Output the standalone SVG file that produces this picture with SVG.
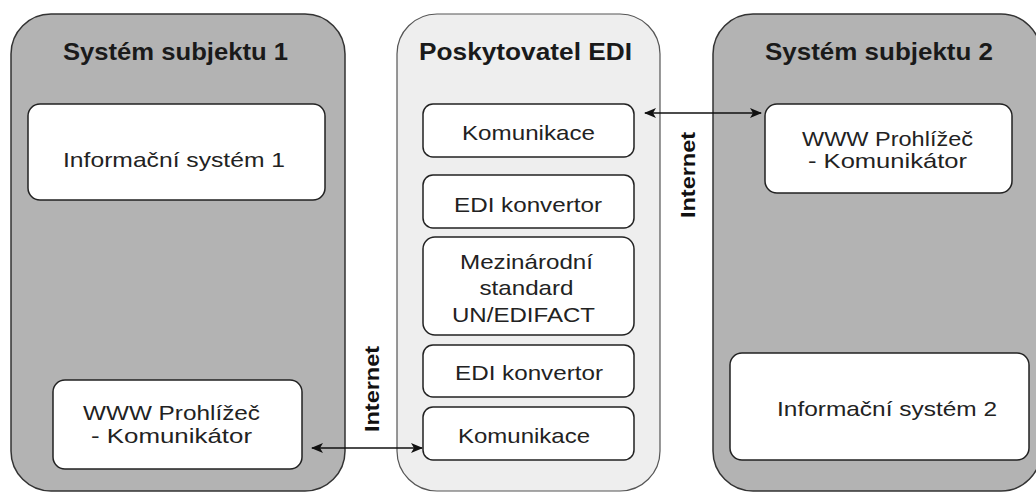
<svg xmlns="http://www.w3.org/2000/svg" width="1036" height="493" viewBox="0 0 1036 493">
<defs>
<marker id="arr" viewBox="0 0 12 10" refX="11" refY="5" markerWidth="12" markerHeight="10" markerUnits="userSpaceOnUse" orient="auto-start-reverse">
<path d="M0,0 L12,5 L0,10 L3,5 Z" fill="#111"/>
</marker>
<style>
.outer{fill:#b3b3b3;stroke:#333;stroke-width:1.5}
.mid{fill:#eeeeee;stroke:#555;stroke-width:1.2}
.box{fill:#fff;stroke:#222;stroke-width:1.5}
.t{font-family:"Liberation Sans",Arial,sans-serif;font-size:21px;fill:#222;text-anchor:middle}
.h{font-family:"Liberation Sans",Arial,sans-serif;font-size:24px;font-weight:bold;fill:#1a1a1a;text-anchor:middle}
.i{font-family:"Liberation Sans",Arial,sans-serif;font-size:20px;font-weight:bold;fill:#111;text-anchor:middle}
.c{stroke:#111;stroke-width:1.5;fill:none}
</style>
</defs>
<rect width="1036" height="493" fill="#fff"/>
<g id="subjekt1">
<rect class="outer" x="11" y="14" width="334" height="477" rx="40"/>
<text class="h" x="175.5" y="60" textLength="225" lengthAdjust="spacingAndGlyphs">Systém subjektu 1</text>
</g>
<g id="poskytovatel">
<rect class="mid" x="397" y="14" width="263" height="477" rx="40"/>
<text class="h" x="525.5" y="60" textLength="213" lengthAdjust="spacingAndGlyphs">Poskytovatel EDI</text>
</g>
<g id="subjekt2">
<rect class="outer" x="713" y="14" width="328" height="477" rx="40"/>
<text class="h" x="879" y="60" textLength="228" lengthAdjust="spacingAndGlyphs">Systém subjektu 2</text>
</g>
<g id="is1">
<rect class="box" x="28" y="104" width="297" height="96" rx="12"/>
<text class="t" x="174" y="167" textLength="222" lengthAdjust="spacingAndGlyphs">Informační systém 1</text>
</g>
<g id="www1">
<rect class="box" x="53" y="380" width="249" height="89" rx="12"/>
<text class="t" x="171.5" y="420" textLength="177" lengthAdjust="spacingAndGlyphs">WWW Prohlížeč</text>
<text class="t" x="171.5" y="443" textLength="161" lengthAdjust="spacingAndGlyphs">- Komunikátor</text>
</g>
<g id="kom1">
<rect class="box" x="423" y="104" width="211" height="53" rx="10"/>
<text class="t" x="528.5" y="140" textLength="133" lengthAdjust="spacingAndGlyphs">Komunikace</text>
</g>
<g id="edi1">
<rect class="box" x="423" y="175" width="211" height="53" rx="10"/>
<text class="t" x="528" y="212" textLength="148" lengthAdjust="spacingAndGlyphs">EDI konvertor</text>
</g>
<g id="standard">
<rect class="box" x="423" y="237" width="211" height="98" rx="12"/>
<text class="t" x="526.5" y="269" textLength="133" lengthAdjust="spacingAndGlyphs">Mezinárodní</text>
<text class="t" x="526.5" y="295" textLength="94" lengthAdjust="spacingAndGlyphs">standard</text>
<text class="t" x="523.5" y="322" textLength="143" lengthAdjust="spacingAndGlyphs">UN/EDIFACT</text>
</g>
<g id="edi2">
<rect class="box" x="423" y="345" width="211" height="52" rx="10"/>
<text class="t" x="529" y="380" textLength="148" lengthAdjust="spacingAndGlyphs">EDI konvertor</text>
</g>
<g id="kom2">
<rect class="box" x="423" y="407" width="211" height="53" rx="10"/>
<text class="t" x="524" y="443" textLength="132" lengthAdjust="spacingAndGlyphs">Komunikace</text>
</g>
<g id="www2">
<rect class="box" x="765" y="104" width="247" height="89" rx="12"/>
<text class="t" x="887.5" y="146" textLength="171" lengthAdjust="spacingAndGlyphs">WWW Prohlížeč</text>
<text class="t" x="887.5" y="168" textLength="159" lengthAdjust="spacingAndGlyphs">- Komunikátor</text>
</g>
<g id="is2">
<rect class="box" x="730" y="353" width="299" height="107" rx="12"/>
<text class="t" x="887" y="416" textLength="220" lengthAdjust="spacingAndGlyphs">Informační systém 2</text>
</g>
<g id="connectors">
<line class="c" x1="645" y1="113" x2="761" y2="113" marker-start="url(#arr)" marker-end="url(#arr)"/>
<line class="c" x1="312" y1="448" x2="422" y2="448" marker-start="url(#arr)" marker-end="url(#arr)"/>
<text class="i" transform="translate(695,175) rotate(-90)" textLength="86" lengthAdjust="spacingAndGlyphs">Internet</text>
<text class="i" transform="translate(379,389) rotate(-90)" textLength="86" lengthAdjust="spacingAndGlyphs">Internet</text>
</g>
</svg>
